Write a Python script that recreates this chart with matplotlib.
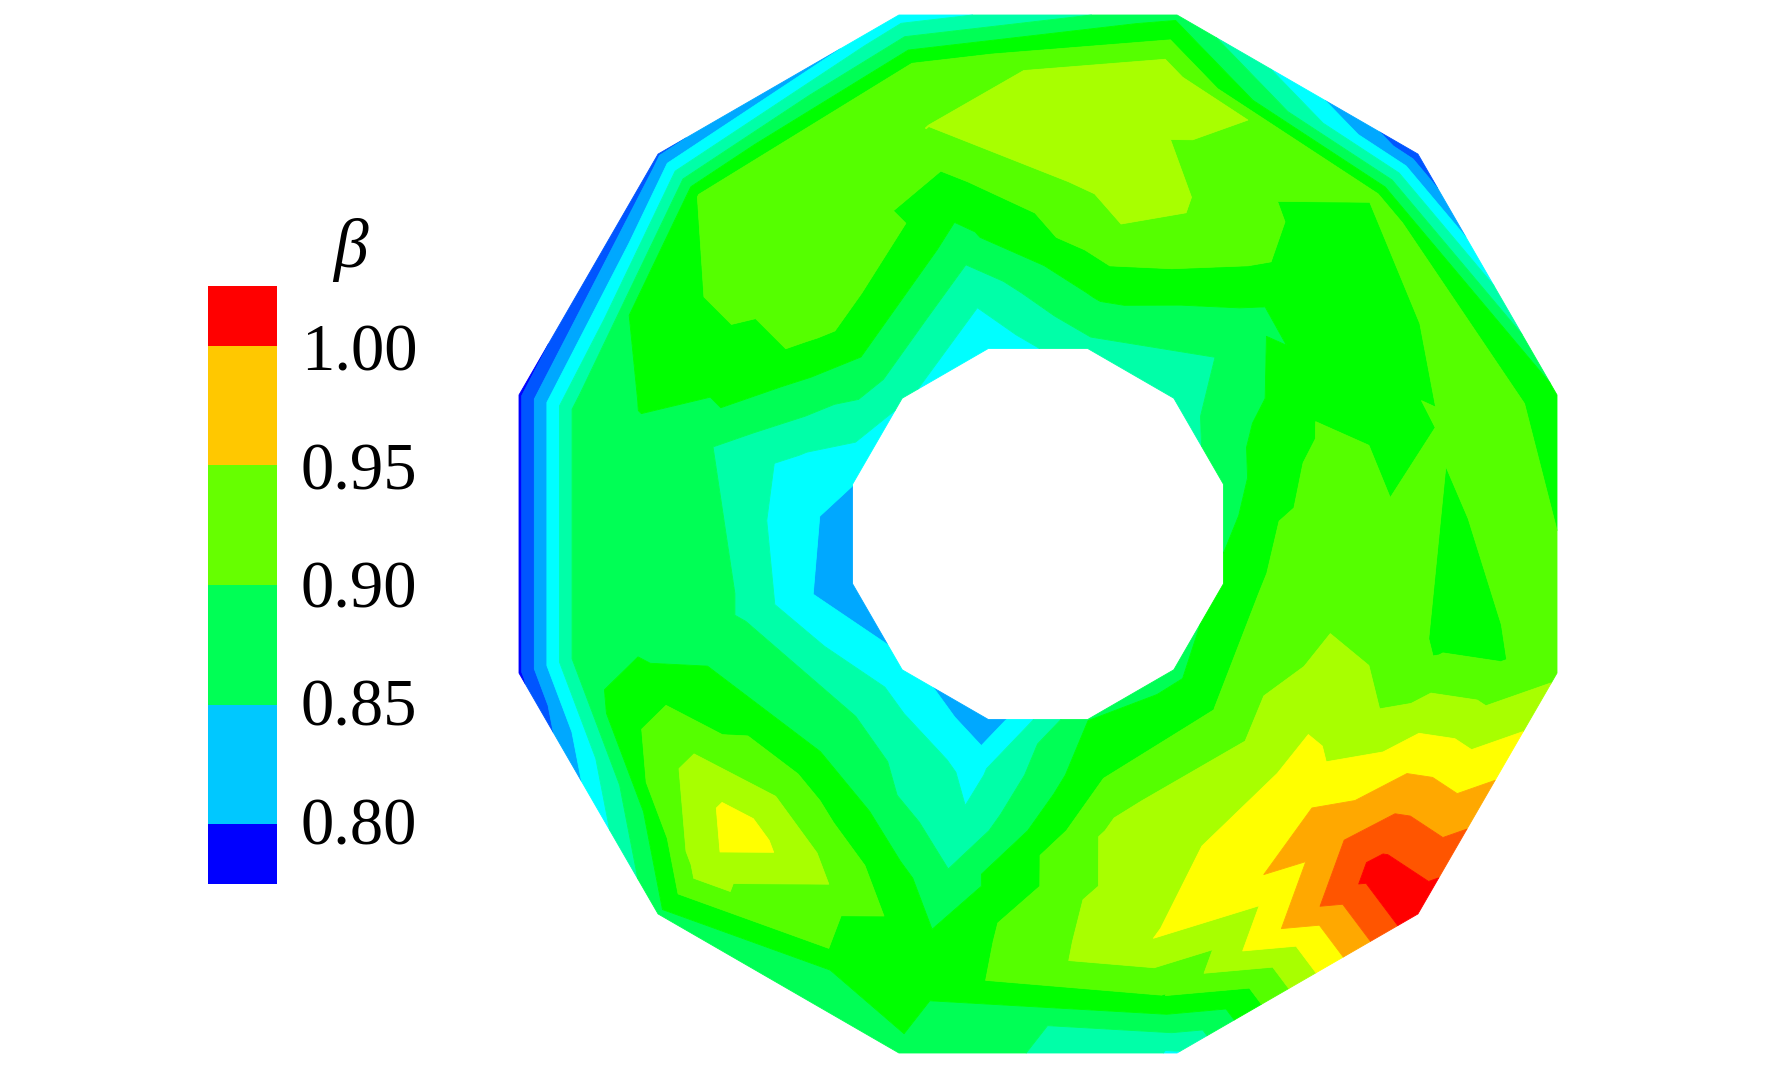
import numpy as np
import matplotlib
matplotlib.use('Agg')
import matplotlib.pyplot as plt
import matplotlib.tri as tri

# beta along each spoke of the 12-sided ring, inner edge to outer edge
spoke_angles = [15, 45, 75, 105, 135, 165, 195, 225, 255, 285, 315, 345]
beta_015 = [0.880, 0.904, 0.917, 0.905, 0.9107, 0.920, 0.895]
beta_045 = [0.860, 0.871, 0.886, 0.904, 0.899, 0.912, 0.800]
beta_075 = [0.865, 0.895, 0.925, 0.941, 0.933, 0.940, 0.885]
beta_105 = [0.838, 0.857, 0.885, 0.905, 0.929, 0.920, 0.840]
beta_135 = [0.855, 0.890, 0.920, 0.920, 0.920, 0.910, 0.810]
beta_165 = [0.833, 0.845, 0.862, 0.880, 0.888, 0.875, 0.790]
beta_195 = [0.815, 0.840, 0.870, 0.880, 0.885, 0.875, 0.790]
beta_225 = [0.840, 0.868, 0.890, 0.925, 0.960, 0.935, 0.885]
beta_255 = [0.820, 0.847, 0.856, 0.878, 0.894, 0.893, 0.889]
beta_285 = [0.890, 0.908, 0.935, 0.940, 0.947, 0.908, 0.850]
beta_315 = [0.885, 0.910, 0.935, 0.959, 0.980, 1.015, 1.020]
beta_345 = [0.895, 0.918, 0.925, 0.920, 0.905, 0.908, 0.925]

beta_grid = np.array([beta_015, beta_045, beta_075, beta_105, beta_135, beta_165,
                      beta_195, beta_225, beta_255, beta_285, beta_315, beta_345])

# mesh cells (ring, spoke) whose diagonal runs the other way
flipped_cells = [(3, 105), (3, 15), (3, 345), (3, 165), (2, 165), (5, 285)]

# contour bands, 13 steps between 0.775 and 1.025
band_colors = ['#0000ff', '#0055ff', '#00a8ff', '#00ffff', '#00ffa8', '#00ff55', '#00ff00',
               '#55ff00', '#a8ff00', '#ffff00', '#ffa800', '#ff5500', '#ff0000']

# legend bar
legend_edges = [0.775, 0.80, 0.85, 0.90, 0.95, 1.00, 1.025]
legend_colors = ['#0000ff', '#00c8ff', '#00ff55', '#66ff00', '#ffc800', '#ff0000']
legend_ticks = [0.80, 0.85, 0.90, 0.95, 1.00]

W, H = 1772, 1070
cx, cy = 1038, 534
r_in = 185.5 / np.cos(np.radians(15))
r_out = 519 / np.cos(np.radians(15))
radii = np.linspace(r_in, r_out, beta_grid.shape[1])

n_spokes, n_rings = beta_grid.shape
ang = np.radians(spoke_angles)
x = np.outer(np.cos(ang), radii).ravel()
y = np.outer(np.sin(ang), radii).ravel()
z = beta_grid.ravel()

triangles = []
for j in range(n_spokes):
    prev = (j - 1) % n_spokes
    for i in range(n_rings - 1):
        a = j * n_rings + i
        b = j * n_rings + i + 1
        c = prev * n_rings + i + 1
        d = prev * n_rings + i
        if (i, spoke_angles[j]) in flipped_cells:
            triangles.append([a, b, d])
            triangles.append([b, c, d])
        else:
            triangles.append([a, b, c])
            triangles.append([a, c, d])
mesh = tri.Triangulation(x, y, triangles)

fig = plt.figure(figsize=(W / 100, H / 100), dpi=100)
ax = fig.add_axes([0, 0, 1, 1])
ax.set_xlim(-cx, W - cx)
ax.set_ylim(cy - H, cy)
ax.axis('off')

levels = np.linspace(0.775, 1.025, len(band_colors) + 1)
cs = ax.tricontourf(mesh, z, levels=levels, colors=band_colors, antialiased=True)
cs.set_edgecolor('face')
cs.set_linewidth(0.6)

# legend bar, placed in figure fractions
cax = fig.add_axes([208 / W, 1 - 884 / H, 69 / W, 598 / H])
cax.bar(0, np.diff(legend_edges), bottom=legend_edges[:-1], width=1, color=legend_colors)
cax.set_xlim(-0.5, 0.5)
cax.set_ylim(legend_edges[0], legend_edges[-1])
cax.axis('off')

# labels sit a touch closer together than the bar edges
for t in legend_ticks:
    cax.text(1.69, 0.7985 + (t - 0.80) * 0.99, f'{t:.2f}', family='Liberation Serif', fontsize=48,
             ha='center', va='center', clip_on=False)
cax.text(2.06, 1.06, 'β', family='Liberation Serif', style='italic', fontsize=50,
         ha='center', va='center', transform=cax.transAxes, clip_on=False)

fig.savefig('out.png', dpi=100, facecolor='white')
